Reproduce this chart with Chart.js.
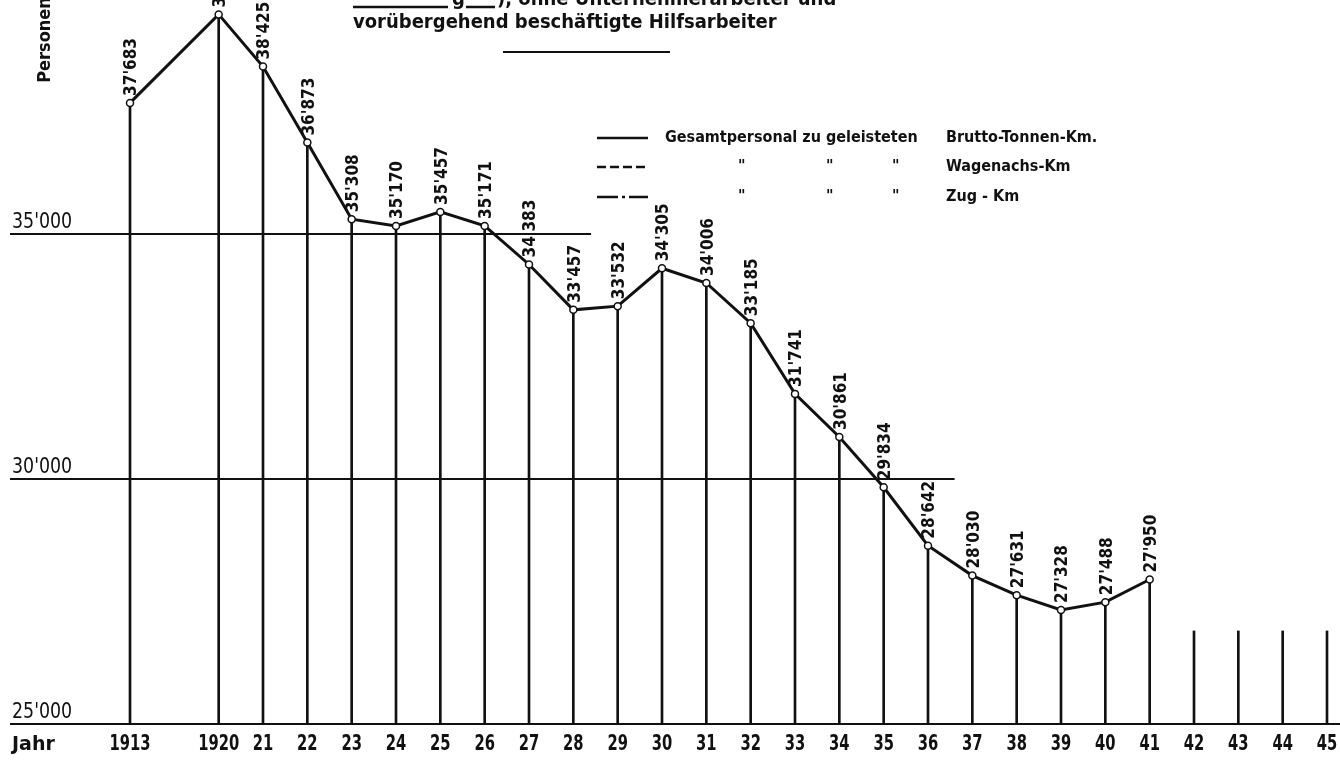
<!DOCTYPE html>
<html>
<head>
<meta charset="utf-8">
<script src="https://cdn.jsdelivr.net/npm/chart.js@4/dist/chart.umd.min.js"></script>
<style>
  html, body { margin: 0; padding: 0; background: #fff; }
</style>
</head>
<body>
<canvas id="myChart" width="1340" height="760"></canvas>
<script>
// x categories: 1913, a skipped slot, then 1920 ... 1945
const years = ['1913', '', '1920', '21', '22', '23', '24', '25', '26', '27', '28', '29', '30',
  '31', '32', '33', '34', '35', '36', '37', '38', '39', '40', '41', '42', '43', '44', '45'];

// Personalbestand (Personen)
const personen = [37683, null, 39490, 38425, 36873, 35308, 35170, 35457, 35171, 34383, 33457,
  33532, 34305, 34006, 33185, 31741, 30861, 29834, 28642, 28030, 27631, 27328, 27488, 27950,
  null, null, null, null];

// empty year columns 1942-45 (short stubs only)
const stubs = [null, null, null, null, null, null, null, null, null, null, null, null, null, null,
  null, null, null, null, null, null, null, null, null, null, 26900, 26900, 26900, 26900];

const yTicks = [25000, 30000, 35000];
const yTickLabels = ["25'000", "30'000", "35'000"];

const legendRows = [
  ['Gesamtpersonal zu geleisteten', 'Brutto-Tonnen-Km.'],
  ['"', 'Wagenachs-Km'],
  ['"', 'Zug - Km']
];

const COND = "'DejaVu Sans Condensed', 'Liberation Sans Narrow', sans-serif";
const INK = '#111';

function fmt(v) {
  return Math.floor(v / 1000) + "'" + String(v % 1000).padStart(3, '0');
}

// text squeezed horizontally, to get the tall narrow drafting letters
function narrowText(ctx, text, x, y, sx) {
  ctx.save();
  ctx.translate(x, y);
  ctx.scale(sx, 1);
  ctx.fillText(text, 0, 0);
  ctx.restore();
}

const dropLines = personen.map((v, i) => {
  if (v !== null) return [yTicks[0], v];
  if (stubs[i] !== null) return [yTicks[0], stubs[i]];
  return null;
});

// horizontal rules end at these category positions (the 25'000 rule runs across)
const ruleEnd = { 35000: 10.4, 30000: 18.6 };

const decor = {
  id: 'decor',
  beforeDatasetsDraw(chart) {
    const { ctx, scales: { x, y } } = chart;
    ctx.save();
    ctx.strokeStyle = INK;
    ctx.lineWidth = 2;
    yTicks.forEach(t => {
      const py = Math.round(y.getPixelForValue(t));
      const xEnd = ruleEnd[t] !== undefined ? x.getPixelForValue(ruleEnd[t]) : chart.width;
      ctx.beginPath();
      ctx.moveTo(10, py);
      ctx.lineTo(xEnd, py);
      ctx.stroke();
    });
    ctx.restore();
  },
  afterDatasetsDraw(chart) {
    const { ctx, scales: { x, y } } = chart;
    ctx.save();
    ctx.fillStyle = INK;
    ctx.strokeStyle = INK;

    // y tick labels, sitting on their rules
    ctx.font = '22px ' + COND;
    ctx.textAlign = 'left';
    ctx.textBaseline = 'alphabetic';
    yTicks.forEach((t, i) => {
      narrowText(ctx, yTickLabels[i], 12, y.getPixelForValue(t) - 6, 0.88);
    });

    // x tick labels
    ctx.font = 'bold 21px ' + COND;
    ctx.textAlign = 'center';
    ctx.textBaseline = 'middle';
    years.forEach((lab, i) => {
      if (lab) narrowText(ctx, lab, x.getPixelForValue(i), 745, 0.78);
    });
    ctx.font = 'bold 19px DejaVu Sans';
    ctx.textAlign = 'left';
    ctx.fillText('Jahr', 12, 745);

    // value labels, rotated
    ctx.font = 'bold 17px ' + COND;
    personen.forEach((v, i) => {
      if (v === null) return;
      const px = x.getPixelForValue(i);
      const py = y.getPixelForValue(v);
      ctx.save();
      ctx.translate(px + 2, py - 7);
      ctx.rotate(-Math.PI / 2);
      ctx.textAlign = 'left';
      ctx.textBaseline = 'middle';
      ctx.fillText(fmt(v), 0, 0);
      ctx.restore();
    });

    // y axis title
    ctx.save();
    ctx.translate(45, 40);
    ctx.rotate(-Math.PI / 2);
    ctx.font = 'bold 18px ' + COND;
    ctx.textAlign = 'center';
    ctx.textBaseline = 'middle';
    ctx.fillText('Personen', 0, 0);
    ctx.restore();

    // heading (first line cut off by the top edge)
    ctx.font = 'bold 20px ' + COND;
    ctx.textAlign = 'left';
    ctx.textBaseline = 'alphabetic';
    ctx.fillText('g', 452, 5);
    ctx.fillText('), ohne Unternehmerarbeiter und', 497, 5);
    ctx.fillText('vorübergehend beschäftigte Hilfsarbeiter', 353, 28);
    ctx.lineWidth = 2.5;
    ctx.beginPath();
    ctx.moveTo(353, 7); ctx.lineTo(448, 7);
    ctx.moveTo(466, 7); ctx.lineTo(495, 7);
    ctx.stroke();
    ctx.lineWidth = 2;
    ctx.beginPath();
    ctx.moveTo(503, 52); ctx.lineTo(670, 52);
    ctx.stroke();

    // line style key
    const rowsY = [138, 167, 197];
    const dashes = [[], [9, 4], [21, 4, 3, 4]];
    ctx.font = 'bold 16px ' + COND;
    ctx.textBaseline = 'middle';
    legendRows.forEach((row, i) => {
      ctx.setLineDash(dashes[i]);
      ctx.lineWidth = 2.5;
      ctx.beginPath();
      ctx.moveTo(597, rowsY[i]);
      ctx.lineTo(648, rowsY[i]);
      ctx.stroke();
      ctx.setLineDash([]);
      if (i === 0) {
        ctx.fillText(row[0], 665, rowsY[i]);
      } else {
        [738, 826, 892].forEach(dx => ctx.fillText(row[0], dx, rowsY[i]));
      }
      ctx.fillText(row[1], 946, rowsY[i]);
    });
    ctx.restore();
  }
};

new Chart(document.getElementById('myChart'), {
  data: {
    labels: years,
    datasets: [
      {
        type: 'line',
        label: 'Personen',
        data: personen,
        order: 0,
        borderColor: INK,
        borderWidth: 3,
        spanGaps: true,
        tension: 0,
        pointRadius: 3.5,
        pointBorderWidth: 1.5,
        pointBorderColor: INK,
        pointBackgroundColor: '#fff',
        clip: false,
        segment: {
          borderDash: ctx => ctx.p0DataIndex === 0 ? [10, 6] : undefined
        }
      },
      {
        type: 'bar',
        label: 'Stützen',
        data: dropLines,
        order: 1,
        backgroundColor: INK,
        barThickness: 2,
        borderWidth: 0,
        clip: false
      }
    ]
  },
  options: {
    responsive: false,
    animation: false,
    devicePixelRatio: 1,
    layout: { padding: { left: 130, right: 13, top: 9, bottom: 36 } },
    plugins: { legend: { display: false }, tooltip: { enabled: false } },
    scales: {
      x: { display: false, offset: false },
      y: { display: false, min: yTicks[0], max: 39600 }
    }
  },
  plugins: [decor]
});
</script>
</body>
</html>
